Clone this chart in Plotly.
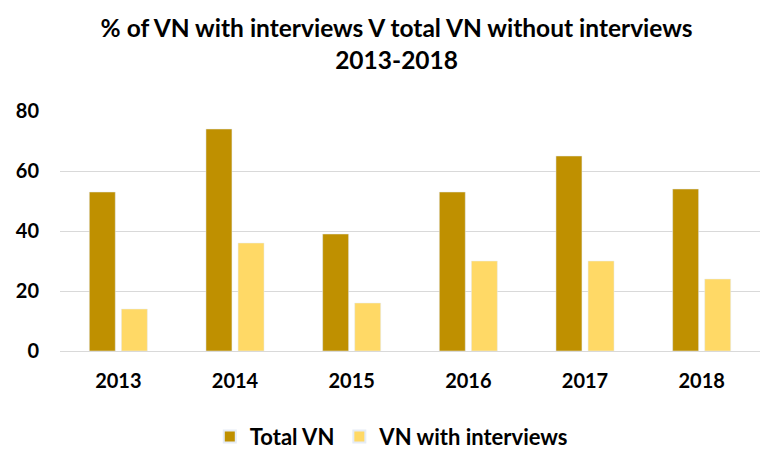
import plotly.graph_objects as go

years = ["2013", "2014", "2015", "2016", "2017", "2018"]
total_vn = [53, 74, 39, 53, 65, 54]
vn_interviews = [14, 36, 16, 30, 30, 24]
y_ticks = [0, 20, 40, 60, 80]

FONT = "Lato"

fig = go.Figure()
fig.add_trace(go.Bar(x=years, y=total_vn, name="Total VN", marker_color="#BF9000"))
fig.add_trace(go.Bar(x=years, y=vn_interviews, name="VN with interviews", marker_color="#FFD966"))

fig.update_layout(
    width=771, height=453,
    margin=dict(l=52, r=19, t=103, b=110, autoexpand=False),
    paper_bgcolor="white", plot_bgcolor="white",
    font=dict(family=FONT, color="#000000"),
    title=dict(
        text="<b>% of VN with interviews V total VN without interviews<br>2013-2018</b>",
        x=0.504, xanchor="center", y=0.935, yanchor="top",
        font=dict(size=24.5, family=FONT, color="#000000"),
    ),
    barmode="group", bargap=0.45, bargroupgap=0.19,
    showlegend=True,
    legend=dict(orientation="h", x=0.474, xanchor="center", y=-0.27, yanchor="top",
                font=dict(size=22, family=FONT, color="#000000", weight="bold"),
                itemsizing="constant", traceorder="normal"),
    xaxis=dict(showgrid=False, showline=False, ticks="",
               tickfont=dict(size=20, family=FONT, color="#000000", weight="bold"),
               ticklabelstandoff=16),
    yaxis=dict(range=[0, 80], tickvals=y_ticks, showgrid=True, gridcolor="#D9D9D9",
               gridwidth=1, zeroline=True, zerolinecolor="#D9D9D9", zerolinewidth=1,
               showline=False, ticks="",
               tickfont=dict(size=20, family=FONT, color="#000000", weight="bold"),
               ticklabelstandoff=20),
)

fig.write_html("out.html")
